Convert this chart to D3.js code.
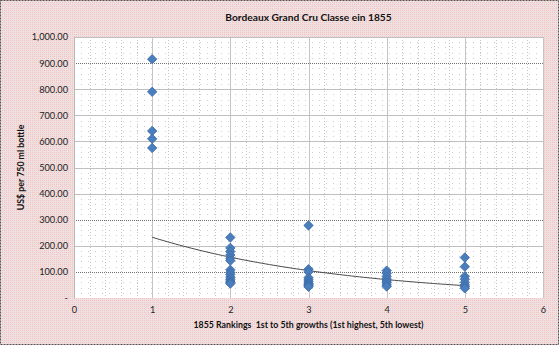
<!DOCTYPE html>
<html>
<head>
<meta charset="utf-8">
<script src="https://cdn.jsdelivr.net/npm/d3@7"></script>
<style>
  html, body { margin: 0; padding: 0; background: #fff; }
  svg { display: block; }
  text { white-space: pre; }
</style>
</head>
<body>
<script>
// 1855 classification: prices (US$ per 750 ml bottle) by growth
const growths = [1, 2, 3, 4, 5];
const firstGrowthPrices  = [915, 790, 640, 610, 575];
const secondGrowthPrices = [232, 192, 178, 165, 152, 143, 108, 98, 90, 80, 72, 65, 60, 55];
const thirdGrowthPrices  = [278, 110, 100, 78, 70, 63, 56, 52, 48, 43];
const fourthGrowthPrices = [105, 95, 83, 73, 65, 58, 50, 44];
const fifthGrowthPrices  = [155, 120, 83, 72, 60, 50, 43, 37];

const xTickValues = [0, 1, 2, 3, 4, 5, 6];
const yTickValues = [0, 100, 200, 300, 400, 500, 600, 700, 800, 900, 1000];

const titleText = "Bordeaux Grand Cru Classe ein 1855";
const xTitleText = "1855 Rankings  1st to 5th growths (1st highest, 5th lowest)";
const yTitleText = "US$ per 750 ml bottle";

const W = 559, H = 345;
const margin = { left: 74, right: 16, top: 37, bottom: 47 };
const FONT = "Lato, 'Open Sans', sans-serif";

const priceGroups = [firstGrowthPrices, secondGrowthPrices, thirdGrowthPrices,
                     fourthGrowthPrices, fifthGrowthPrices];
const points = [];
growths.forEach((g, i) => priceGroups[i].forEach(p => points.push({ rank: g, price: p })));

const svg = d3.select("body").append("svg")
  .attr("width", W).attr("height", H);

// Fine checkered chart-area fill
const defs = svg.append("defs");
const pat = defs.append("pattern")
  .attr("id", "chartFill").attr("patternUnits", "userSpaceOnUse")
  .attr("width", 2).attr("height", 2);
pat.append("rect").attr("width", 2).attr("height", 2).attr("fill", "#f6dede");
pat.append("rect").attr("x", 0).attr("y", 0).attr("width", 1).attr("height", 1).attr("fill", "#efc4c4");
pat.append("rect").attr("x", 1).attr("y", 1).attr("width", 1).attr("height", 1).attr("fill", "#e6e3e3");

svg.append("rect").attr("width", W).attr("height", H).attr("fill", "url(#chartFill)");
svg.append("rect")
  .attr("x", 0.5).attr("y", 0.5).attr("width", W - 1).attr("height", H - 1)
  .attr("fill", "none").attr("stroke", "#555").attr("stroke-dasharray", "2,1");

const x = d3.scaleLinear().domain([0, 6]).range([margin.left, W - margin.right]);
const y = d3.scaleLinear().domain([0, 1000]).range([H - margin.bottom, margin.top]);

// Plot area
svg.append("rect")
  .attr("x", x(0)).attr("y", y(1000))
  .attr("width", x(6) - x(0)).attr("height", y(0) - y(1000))
  .attr("fill", "#fff");

const grid = svg.append("g");

// minor gridlines
grid.selectAll(".vminor").data(d3.range(0.2, 6, 0.2).filter(v => Math.abs(v - Math.round(v)) > 1e-6))
  .enter().append("line")
  .attr("x1", d => Math.round(x(d)) + 0.5).attr("x2", d => Math.round(x(d)) + 0.5)
  .attr("y1", y(1000)).attr("y2", y(0))
  .attr("stroke", "#c6c6c6").attr("stroke-dasharray", "1,2");
grid.selectAll(".hminor").data(d3.range(20, 1000, 20).filter(v => v % 100 !== 0))
  .enter().append("line")
  .attr("x1", x(0)).attr("x2", x(6))
  .attr("y1", d => Math.round(y(d)) + 0.5).attr("y2", d => Math.round(y(d)) + 0.5)
  .attr("stroke", "#cfcfcf").attr("stroke-dasharray", "1,6");

// major gridlines
const darkRule = d => d === 100 || d === 300 || d === 900;
grid.selectAll(".vmajor").data(xTickValues.slice(1))
  .enter().append("line")
  .attr("x1", d => Math.round(x(d)) + 0.5).attr("x2", d => Math.round(x(d)) + 0.5)
  .attr("y1", y(1000)).attr("y2", y(0))
  .attr("stroke", "#c4c4c4");
grid.selectAll(".hmajor").data(yTickValues.slice(1))
  .enter().append("line")
  .attr("x1", x(0)).attr("x2", x(6))
  .attr("y1", d => Math.round(y(d)) + 0.5).attr("y2", d => Math.round(y(d)) + 0.5)
  .attr("stroke", d => darkRule(d) ? "#707070" : "#c0c0c0")
  .attr("stroke-dasharray", d => darkRule(d) ? "1,1" : null);

// y axis line
svg.append("line")
  .attr("x1", x(0) + 0.5).attr("x2", x(0) + 0.5)
  .attr("y1", y(1000)).attr("y2", y(0))
  .attr("stroke", "#b8b8b8");

// Axes (labels only)
const yAxis = d3.axisLeft(y).tickValues(yTickValues)
  .tickFormat(v => v === 0 ? "-" : d3.format(",.2f")(v))
  .tickSize(0).tickPadding(6);
const gy = svg.append("g").attr("transform", `translate(${x(0)},0)`).call(yAxis);
gy.select(".domain").remove();
gy.selectAll("text").attr("font-family", FONT).attr("font-size", 9.2).attr("fill", "#222");

const xAxis = d3.axisBottom(x).tickValues(xTickValues).tickFormat(d3.format("d"))
  .tickSize(0).tickPadding(8);
const gx = svg.append("g").attr("transform", `translate(0,${y(0)})`).call(xAxis);
gx.select(".domain").remove();
gx.selectAll("text").attr("font-family", FONT).attr("font-size", 9.2).attr("fill", "#222");

// Exponential trendline fitted by least squares on ln(price)
const mx = d3.mean(points, d => d.rank);
const my = d3.mean(points, d => Math.log(d.price));
const sxy = d3.sum(points, d => (d.rank - mx) * (Math.log(d.price) - my));
const sxx = d3.sum(points, d => (d.rank - mx) ** 2);
const b = sxy / sxx;
const a = Math.exp(my - b * mx);
const trend = d3.range(growths[0], growths[growths.length - 1] + 0.001, 0.05)
  .map(r => ({ rank: r, price: a * Math.exp(b * r) }));

svg.append("path").datum(trend)
  .attr("fill", "none").attr("stroke", "#4a4a4a").attr("stroke-width", 1)
  .attr("d", d3.line().x(d => x(d.rank)).y(d => y(d.price)));

// Points
const diamond = d3.symbol().type(d3.symbolSquare).size(44);
svg.append("g").selectAll("path").data(points).enter().append("path")
  .attr("d", diamond)
  .attr("transform", d => `translate(${x(d.rank)},${y(d.price)}) rotate(45)`)
  .attr("fill", "#4a7ebd").attr("stroke", "#3b6aa6").attr("stroke-width", 0.8);

// Titles
svg.append("text").attr("x", (x(0) + x(6)) / 2).attr("y", 21)
  .attr("text-anchor", "middle").attr("font-family", FONT)
  .attr("font-weight", "bold").attr("font-size", 10.2).attr("fill", "#111")
  .text(titleText);

svg.append("text").attr("x", (x(0) + x(6)) / 2).attr("y", 328)
  .attr("text-anchor", "middle").attr("font-family", FONT)
  .attr("font-weight", "bold").attr("font-size", 8.8).attr("fill", "#111")
  .text(xTitleText);

svg.append("text")
  .attr("transform", `translate(24,${(y(0) + y(1000)) / 2}) rotate(-90)`)
  .attr("text-anchor", "middle").attr("font-family", FONT)
  .attr("font-weight", "bold").attr("font-size", 8.8).attr("fill", "#111")
  .text(yTitleText);
</script>
</body>
</html>
